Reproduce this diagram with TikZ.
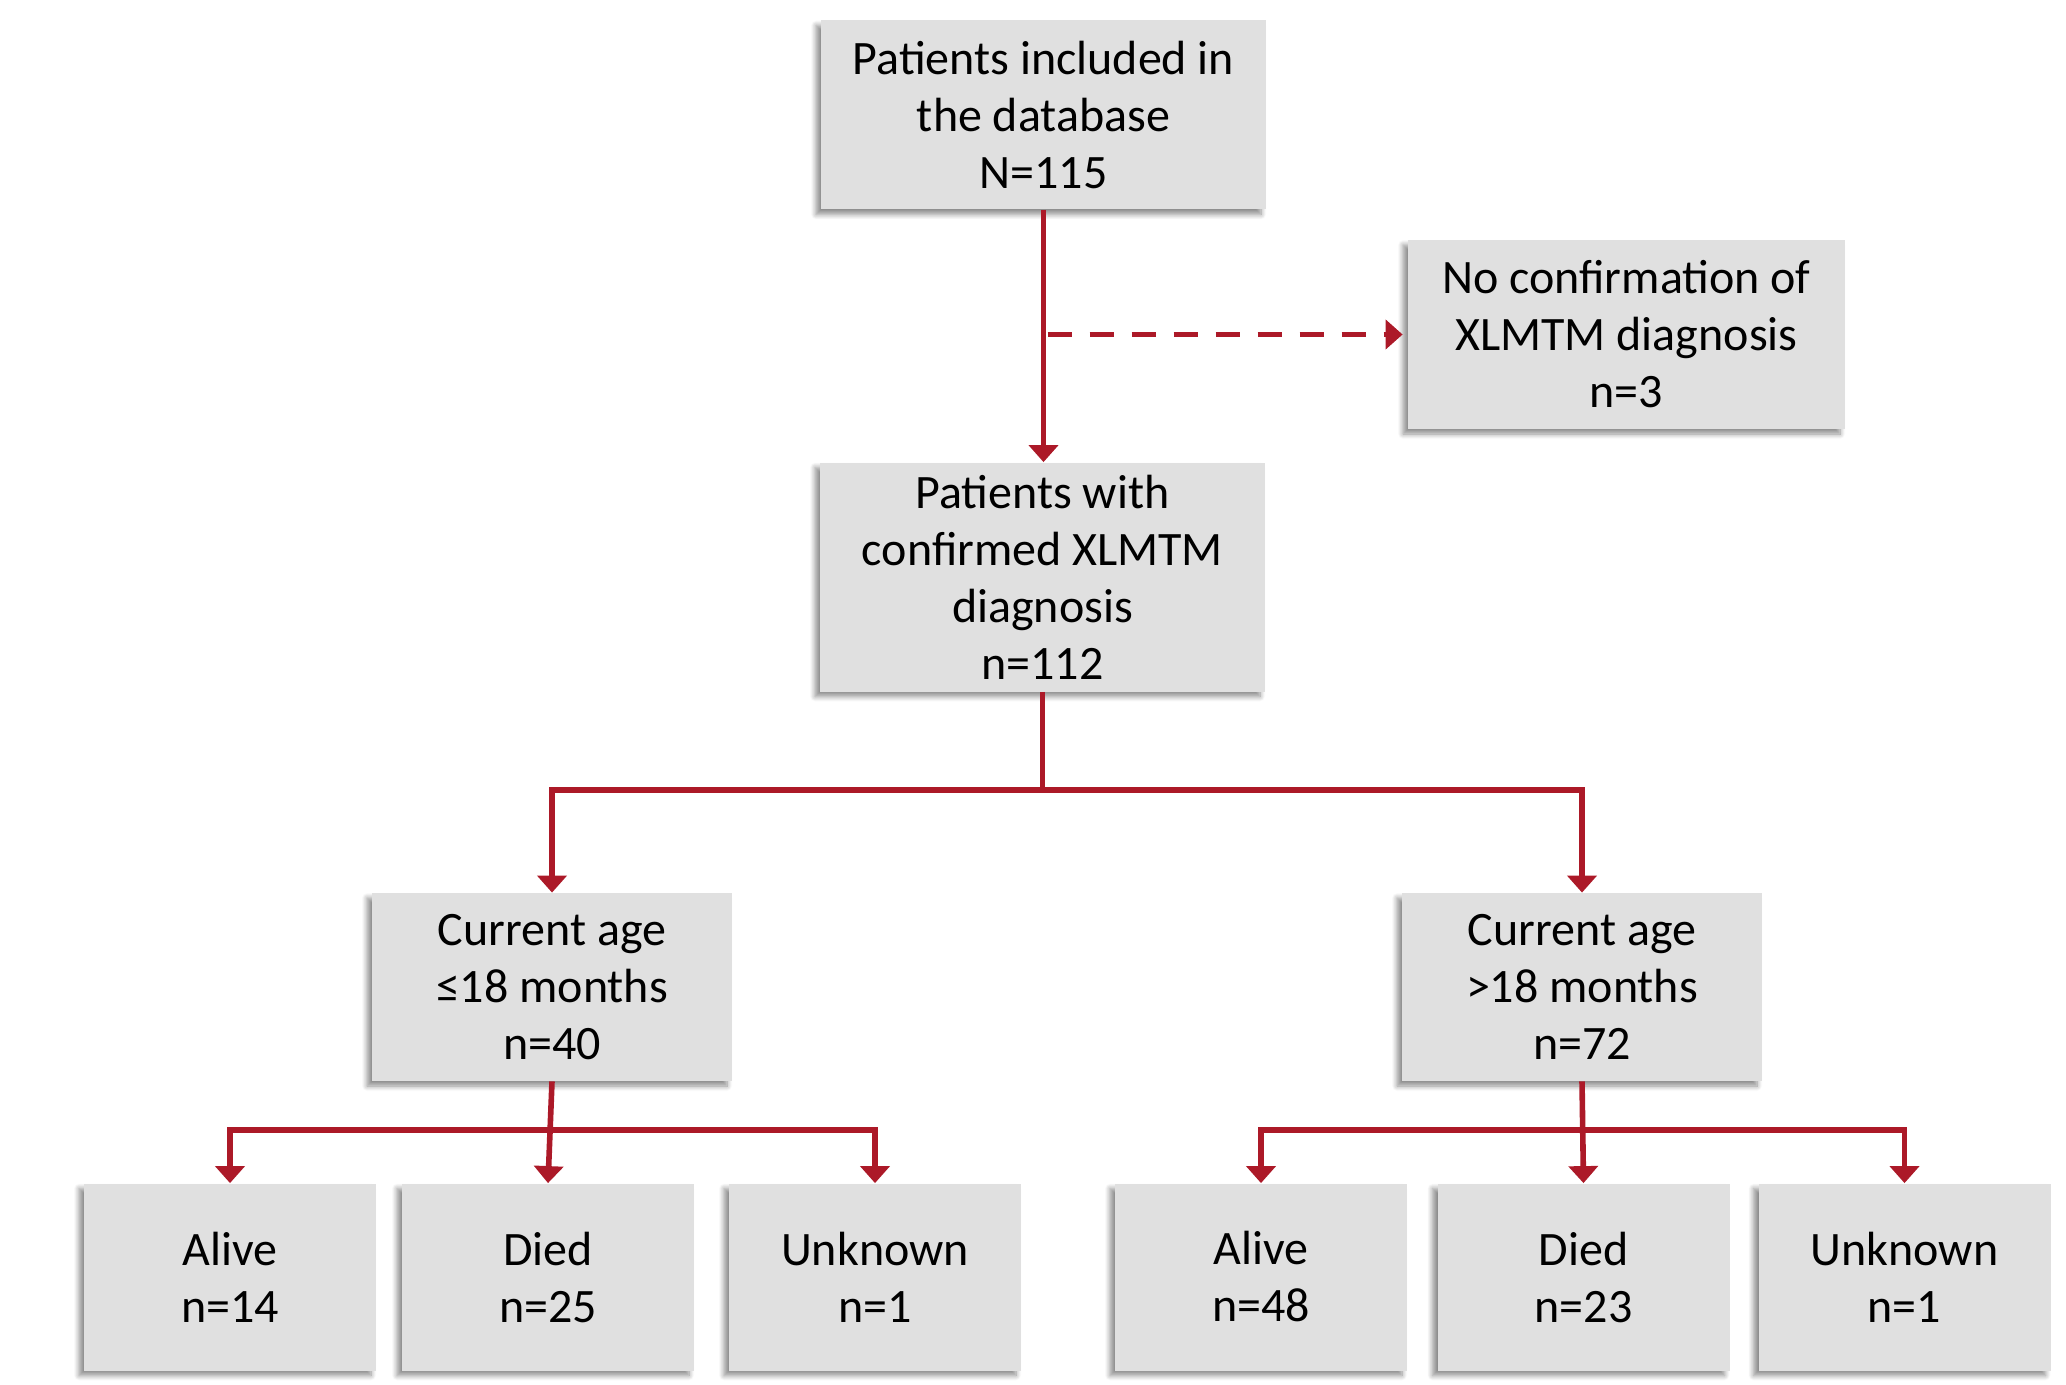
\documentclass[tikz,border=0pt]{standalone}
\usepackage{fontspec}
\setmainfont{Carlito}
\usetikzlibrary{arrows.meta,shadows.blur}
\definecolor{boxgray}{RGB}{224,224,224}
\definecolor{flowred}{RGB}{172,25,40}
\tikzset{
  flowbox/.style={fill=boxgray, draw=none, align=center, inner sep=0pt,
    font=\fontsize{24}{28.5}\selectfont,
    blur shadow={shadow xshift=-2.5pt, shadow yshift=-2.5pt, shadow blur radius=2.5pt, shadow blur steps=8, shadow opacity=45}},
  arr/.style={draw=flowred, line width=2.8pt, line join=miter,
    -{Triangle[width=14.5pt,length=8.5pt]}},
  dasharr/.style={arr, dash pattern=on 12pt off 9pt},
}
\begin{document}
\begin{tikzpicture}[x=0.5pt,y=-0.5pt]
\useasboundingbox (0,0) rectangle (2066,1385);
\node[flowbox, minimum width=222.5pt, minimum height=94.5pt] (top) at (1043.5,115) {Patients included in\\the database\\N=115};
\node[flowbox, minimum width=218.5pt, minimum height=94.5pt] (noconf) at (1626.5,334.5) {No confirmation of\\XLMTM diagnosis\\n=3};
\node[flowbox, minimum width=222.5pt, minimum height=114.5pt] (conf) at (1042.5,577) {Patients with\\confirmed XLMTM\\diagnosis\\n=112};
\node[flowbox, minimum width=180pt, minimum height=94pt] (curL) at (552,987) {Current age\\≤18 months\\n=40};
\node[flowbox, minimum width=180pt, minimum height=94pt] (curR) at (1582,987) {Current age\\>18 months\\n=72};
\node[flowbox, minimum width=146pt, minimum height=93.5pt] (aliveL) at (230,1277) {Alive\\n=14};
\node[flowbox, minimum width=146pt, minimum height=93.5pt] (diedL) at (548,1277) {Died\\n=25};
\node[flowbox, minimum width=146pt, minimum height=93.5pt] (unkL) at (875,1277) {Unknown\\n=1};
\node[flowbox, minimum width=146pt, minimum height=93.5pt] (aliveR) at (1261,1277) {Alive\\n=48};
\node[flowbox, minimum width=146pt, minimum height=93.5pt] (diedR) at (1583.5,1277) {Died\\n=23};
\node[flowbox, minimum width=146pt, minimum height=93.5pt] (unkR) at (1904.5,1277) {Unknown\\n=1};
% connectors
\draw[arr] (top.south) -- (top.south |- conf.north);
\coordinate (dstart) at ([xshift=2pt]top.south |- noconf.west);
\draw[dasharr] (dstart) -- ([xshift=-2.5pt]noconf.west);
\coordinate (j1) at (conf.south |- 0,790);
\draw[arr, -] (conf.south) -- (j1);
\draw[arr] (j1) -| (curL.north);
\draw[arr] (j1) -| (curR.north);
\coordinate (jL) at (curL.south |- 0,1130);
\draw[arr] (curL.south) -- (diedL.north);
\draw[arr] (jL) -| (aliveL.north);
\draw[arr] (jL) -| (unkL.north);
\coordinate (jR) at (curR.south |- 0,1130);
\draw[arr] (curR.south) -- (diedR.north);
\draw[arr] (jR) -| (aliveR.north);
\draw[arr] (jR) -| (unkR.north);
\end{tikzpicture}
\end{document}
